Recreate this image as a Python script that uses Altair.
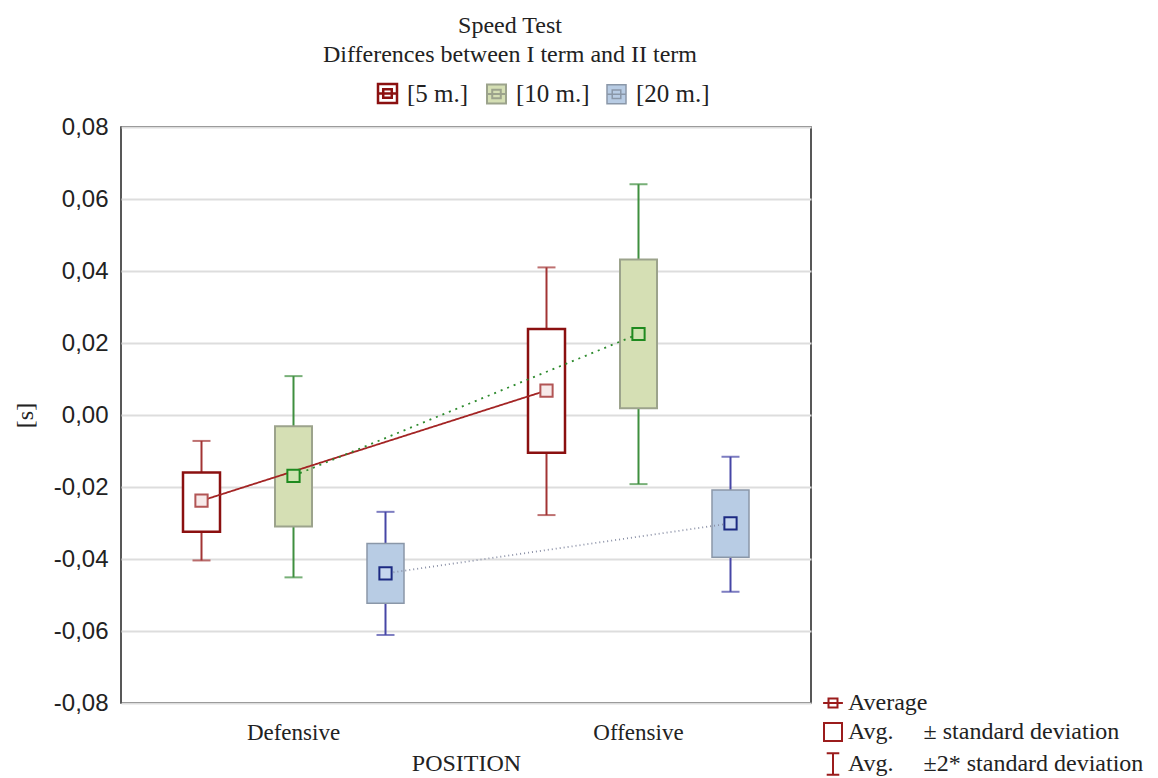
import altair as alt
import pandas as pd

positions = ["Defensive", "Offensive"]
distances = ["[5 m.]", "[10 m.]", "[20 m.]"]

mean_5m = [-0.0238, 0.0068]
sd_lo_5m = [-0.0324, -0.0105]
sd_hi_5m = [-0.0160, 0.0239]
sd2_lo_5m = [-0.0404, -0.0278]
sd2_hi_5m = [-0.0072, 0.0410]

mean_10m = [-0.0169, 0.0225]
sd_lo_10m = [-0.0310, 0.0019]
sd_hi_10m = [-0.0031, 0.0432]
sd2_lo_10m = [-0.0451, -0.0192]
sd2_hi_10m = [0.0108, 0.0641]

mean_20m = [-0.0440, -0.0301]
sd_lo_20m = [-0.0523, -0.0395]
sd_hi_20m = [-0.0357, -0.0208]
sd2_lo_20m = [-0.0611, -0.0491]
sd2_hi_20m = [-0.0269, -0.0116]

y_ticks = [-0.08, -0.06, -0.04, -0.02, 0.0, 0.02, 0.04, 0.06, 0.08]

stat_labels = [
    "Average",
    "Avg.\u00a0\u00a0\u00a0\u00a0\u00a0± standard deviation",
    "Avg.\u00a0\u00a0\u00a0\u00a0\u00a0±2* standard deviation",
]

series = {
    "[5 m.]": (mean_5m, sd_lo_5m, sd_hi_5m, sd2_lo_5m, sd2_hi_5m),
    "[10 m.]": (mean_10m, sd_lo_10m, sd_hi_10m, sd2_lo_10m, sd2_hi_10m),
    "[20 m.]": (mean_20m, sd_lo_20m, sd_hi_20m, sd2_lo_20m, sd2_hi_20m),
}
rows = []
for d in distances:
    m, lo, hi, lo2, hi2 = series[d]
    for i, p in enumerate(positions):
        rows.append(dict(pos=p, dist=d, mean=m[i], lo=lo[i], hi=hi[i], lo2=lo2[i], hi2=hi2[i]))
df = pd.DataFrame(rows)
stat_df = pd.DataFrame({"stat": stat_labels})

serif = "Liberation Serif"
sans = "Liberation Sans"

box_fill = ["#FFFFFF", "#D5DFB4", "#B8CCE4"]
box_stroke = ["#8B1010", "#9CA38C", "#8A97A8"]
box_sw = [2.5, 1.5, 1.5]
whisker_col = ["#A23434", "#3F8F3F", "#4646A6"]
mean_stroke = ["#B25555", "#1F8A1F", "#1C2A82"]
mean_fill = ["#F7EAEA", "#CFE3B0", "#C6D6EE"]
line_col = ["#A32424", "#2E8B2E", "#8A90A6"]
line_dash = [[1, 0], [2, 5], [1, 3]]

xscale = alt.Scale(domain=positions, paddingInner=0, paddingOuter=0)
xoff = alt.XOffset("dist:N", scale=alt.Scale(domain=distances, paddingInner=0, paddingOuter=0.375))
yscale = alt.Scale(domain=[-0.08, 0.08], nice=False, zero=False)

x_enc = alt.X(
    "pos:N", scale=xscale,
    axis=alt.Axis(title="POSITION", labelAngle=0, labelFont=serif, labelFontSize=23,
                  labelColor="#222", titleFont=serif, titleFontSize=24, titleFontWeight="normal",
                  titleColor="#222", tickSize=0, labelPadding=18, titlePadding=7,
                  domain=False, grid=False),
)
y_axis = alt.Axis(
    title="[s]", values=y_ticks,
    labelExpr="(datum.value < 0 ? '-' : '') + replace(format(abs(datum.value), '.2f'), '.', ',')",
    labelFont=sans, labelFontSize=24, labelColor="#222", labelPadding=13, tickSize=0,
    titleFont=serif, titleFontSize=24, titleFontWeight="normal", titleColor="#222",
    titlePadding=16, domain=False, grid=True, gridColor="#DDDDDD", gridWidth=2,
)

base = alt.Chart(df)

whisk = base.mark_rule(strokeWidth=2).encode(
    x=x_enc, xOffset=xoff,
    y=alt.Y("lo2:Q", scale=yscale, axis=y_axis),
    y2="hi2:Q",
    stroke=alt.Stroke("dist:N", scale=alt.Scale(domain=distances, range=whisker_col), legend=None),
)
cap_lo = base.mark_tick(size=18, thickness=2).encode(
    x="pos:N", xOffset=xoff, y=alt.Y("lo2:Q"),
    color=alt.Color("dist:N", scale=alt.Scale(domain=distances, range=whisker_col), legend=None),
)
cap_hi = base.mark_tick(size=18, thickness=2).encode(
    x="pos:N", xOffset=xoff, y=alt.Y("hi2:Q"),
    color=alt.Color("dist:N", scale=alt.Scale(domain=distances, range=whisker_col), legend=None),
)
boxes = base.mark_bar(size=37, fillOpacity=1).encode(
    x="pos:N", xOffset=xoff, y=alt.Y("lo:Q"), y2="hi:Q",
    fill=alt.Fill("dist:N", scale=alt.Scale(domain=distances, range=box_fill),
                  sort=distances,
                  legend=alt.Legend(
                      title=None, orient="none", legendX=254, legendY=-46, direction="horizontal",
                      labelFont=serif, labelFontSize=25, labelColor="#222", labelLimit=300,
                      symbolType="M-1,-1H1V1H-1Z M-0.45,-0.45H0.45V0.45H-0.45Z M-1,0H1",
                      symbolSize=361, symbolStrokeWidth=1.5, columnPadding=14, labelOffset=7)),
    stroke=alt.Stroke("dist:N", scale=alt.Scale(domain=distances, range=box_stroke), sort=distances),
    strokeWidth=alt.StrokeWidth("dist:N", scale=alt.Scale(domain=distances, range=box_sw), legend=None),
)
lines = base.mark_line(strokeWidth=1.8).encode(
    x="pos:N", xOffset=xoff, y=alt.Y("mean:Q"),
    stroke=alt.Stroke("dist:N", scale=alt.Scale(domain=distances, range=line_col), legend=None),
    strokeDash=alt.StrokeDash("dist:N", scale=alt.Scale(domain=distances, range=line_dash), legend=None),
)
means = base.mark_point(shape="square", size=150, strokeWidth=2, opacity=1, fillOpacity=1).encode(
    x="pos:N", xOffset=xoff, y=alt.Y("mean:Q"),
    fill=alt.Fill("dist:N", scale=alt.Scale(domain=distances, range=mean_fill), legend=None),
    stroke=alt.Stroke("dist:N", scale=alt.Scale(domain=distances, range=mean_stroke), legend=None),
)
stat_leg = alt.Chart(stat_df).mark_point(opacity=0).encode(
    shape=alt.Shape("stat:N", sort=stat_labels, scale=alt.Scale(
        domain=stat_labels,
        range=["M-0.5,-0.5H0.5V0.5H-0.5Z M-1.1,0H1.1",
               "M-1,-1H1V1H-1Z",
               "M-0.7,-1.2H0.7 M0,-1.2V1.2 M-0.7,1.2H0.7"]),
        legend=alt.Legend(title=None, orient="none", legendX=700, legendY=564,
                          labelFont=serif, labelFontSize=24, labelColor="#222", labelLimit=400,
                          symbolSize=324, symbolStrokeColor="#9B1C1C", symbolFillColor="transparent",
                          symbolStrokeWidth=2, symbolOpacity=1, rowPadding=4, labelOffset=3)),
)

chart = alt.layer(whisk, cap_lo, cap_hi, boxes, lines, means, stat_leg).resolve_scale(
    fill="independent", stroke="independent", color="independent", strokeDash="independent",
    strokeWidth="independent", shape="independent",
).properties(
    width=690, height=576,
    background="white",
    autosize=alt.AutoSizeParams(type="none"),
    padding={"left": 121, "top": 127, "right": 347, "bottom": 75},
    title=alt.TitleParams(
        text=["Speed Test", "Differences between I term and II term"],
        font=serif, fontSize=24, fontWeight="normal", color="#222", lineHeight=29,
        anchor="middle", dx=44, offset=14,
    ),
).configure_view(stroke="#222", strokeWidth=1.5)

chart.save("out.html", embed_options={"renderer": "svg", "actions": False})
